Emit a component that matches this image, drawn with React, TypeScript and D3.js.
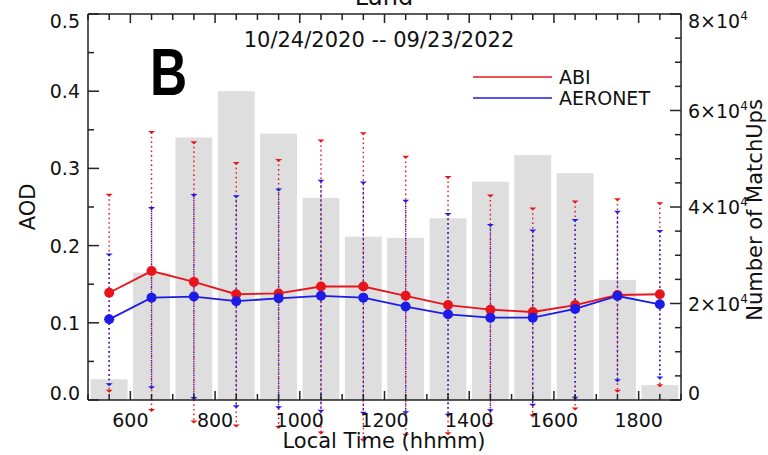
import React from "react";
import * as d3 from "d3";

const hours = [550, 650, 750, 850, 950, 1050, 1150, 1250, 1350, 1450, 1550, 1650, 1750, 1850];
const matchups = [4300, 26400, 54400, 64000, 55200, 41900, 33850, 33600, 37650, 45250, 50750, 47000, 24900, 3100];
const abiMean = [0.139, 0.167, 0.153, 0.137, 0.138, 0.147, 0.147, 0.135, 0.123, 0.117, 0.114, 0.123, 0.136, 0.137];
const abiStd = [0.127, 0.18, 0.181, 0.17, 0.173, 0.189, 0.1985, 0.18, 0.166, 0.148, 0.134, 0.134, 0.124, 0.118];
const aeroMean = [0.1045, 0.1326, 0.134, 0.128, 0.1317, 0.135, 0.1326, 0.121, 0.111, 0.1067, 0.1067, 0.118, 0.1347, 0.124];
const aeroStd = [0.084, 0.116, 0.1315, 0.136, 0.141, 0.149, 0.149, 0.137, 0.13, 0.12, 0.113, 0.115, 0.109, 0.095];
const xTickLabels = [600, 800, 1000, 1200, 1400, 1600, 1800];
const yTickLabels = [0, 0.1, 0.2, 0.3, 0.4, 0.5];
const rightTickLabels = [0, 20000, 40000, 60000, 80000];

const RED = "#e8141c";
const BLUE = "#1c1ce6";
const FONT = "'DejaVu Sans', sans-serif";

export default function App() {
  const L = 88, R = 681, T = 14, B = 400;
  const x = d3.scaleLinear().domain([500, 1900]).range([L, R]);
  const y = d3.scaleLinear().domain([0, 0.5]).range([B, T]);
  const yc = d3.scaleLinear().domain([0, 80000]).range([B, T]);
  const line = d3.line<number>().x((_, i) => x(hours[i])).y((d) => y(d));
  const bw = x(587) - x(500);

  const xMinor = d3.range(500, 1901, 50);
  const yMinor = d3.range(0, 0.5001, 0.05);
  const rMinor = d3.range(0, 80001, 5000);

  const errBars = (mean: number[], std: number[], color: string, key: string) =>
    hours.map((h, i) => {
      const cx = x(h);
      const y1 = y(mean[i] + std[i]);
      const y2 = y(mean[i] - std[i]);
      return (
        <g key={key + i}>
          <line x1={cx} x2={cx} y1={y1} y2={y2} stroke={color} strokeWidth={1.4} strokeDasharray="1.6,3" />
          <path d={`M${cx - 3.5},${y1 - 1} L${cx + 3.5},${y1 - 1} L${cx},${y1 + 2} Z`} fill={color} />
          <path d={`M${cx - 3.5},${y2 - 1} L${cx + 3.5},${y2 - 1} L${cx},${y2 + 2} Z`} fill={color} />
        </g>
      );
    });

  return (
    <svg width={768} height={455} style={{ position: "absolute", left: 0, top: 0, background: "#fff" }} fontFamily={FONT}>
      <rect x={0} y={0} width={768} height={455} fill="#fff" />
      {/* bars */}
      {hours.map((h, i) => (
        <rect key={"b" + i} x={x(h) - bw / 2} y={yc(matchups[i])} width={bw} height={B - yc(matchups[i])} fill="#dedede" />
      ))}
      {/* error bars */}
      {errBars(abiMean, abiStd, RED, "r")}
      {errBars(aeroMean, aeroStd, BLUE, "bl")}
      {/* lines */}
      <path d={line(abiMean) || ""} fill="none" stroke={RED} strokeWidth={1.8} />
      <path d={line(aeroMean) || ""} fill="none" stroke={BLUE} strokeWidth={1.8} />
      {abiMean.map((v, i) => (
        <circle key={"rc" + i} cx={x(hours[i])} cy={y(v)} r={5} fill={RED} />
      ))}
      {aeroMean.map((v, i) => (
        <circle key={"bc" + i} cx={x(hours[i])} cy={y(v)} r={5} fill={BLUE} />
      ))}
      {/* axes frame */}
      <g stroke="#222" strokeWidth={1.5} fill="none">
        <line x1={L} x2={R} y1={B} y2={B} />
        <line x1={L} x2={R} y1={T} y2={T} />
        <line x1={L} x2={L} y1={T} y2={B} />
        <line x1={R} x2={R} y1={T} y2={B} />
        {xMinor.map((v) => {
          const len = v % 200 === 0 ? 9 : 6;
          return (
            <g key={"xt" + v}>
              <line x1={x(v)} x2={x(v)} y1={B} y2={B - len} />
              <line x1={x(v)} x2={x(v)} y1={T} y2={T + len} />
            </g>
          );
        })}
        {yMinor.map((v, i) => {
          const len = i % 2 === 0 ? 11 : 6;
          return <line key={"yt" + i} x1={L} x2={L + len} y1={y(v)} y2={y(v)} />;
        })}
        {rMinor.map((v) => {
          const len = v % 20000 === 0 ? 11 : 6;
          return <line key={"rt" + v} x1={R} x2={R - len} y1={yc(v)} y2={yc(v)} />;
        })}
      </g>
      {/* tick labels */}
      <g fontSize={19} fill="#111">
        {xTickLabels.map((v) => (
          <text key={"xl" + v} x={x(v)} y={427} textAnchor="middle">{v}</text>
        ))}
        {yTickLabels.map((v, i) => {
          let yy = y(v) + 7;
          if (i === 0) yy -= 7;
          if (i === yTickLabels.length - 1) yy += 7;
          return (
            <text key={"yl" + i} x={80} y={yy} textAnchor="end">{v.toFixed(1)}</text>
          );
        })}
        {rightTickLabels.map((v, i) => {
          let yy = yc(v) + 7;
          if (i === 0) yy -= 7;
          if (i === rightTickLabels.length - 1) yy += 7;
          if (v === 0) return <text key={"rl" + i} x={688} y={yy}>0</text>;
          return (
            <text key={"rl" + i} x={688} y={yy}>
              {v / 10000}×10<tspan fontSize={12} dy={-8}>4</tspan>
            </text>
          );
        })}
      </g>
      {/* axis titles */}
      <text x={384} y={448} textAnchor="middle" fontSize={21} fill="#111">Local Time (hhmm)</text>
      <text transform="translate(35,207) rotate(-90)" textAnchor="middle" fontSize={21} fill="#111">AOD</text>
      <text transform="translate(762,210) rotate(-90)" textAnchor="middle" fontSize={21} fill="#111">Number of MatchUps</text>
      <text x={384} y={5} textAnchor="middle" fontSize={24} fill="#111">Land</text>
      <text x={379} y={47} textAnchor="middle" fontSize={21} fill="#111">10/24/2020 -- 09/23/2022</text>
      {/* B label */}
      <text transform="translate(150,95) scale(0.78,1)" fontSize={66} fontWeight={900} fontFamily="'Liberation Sans', sans-serif" fill="#000">B</text>
      {/* legend */}
      <line x1={473} x2={552} y1={77} y2={77} stroke={RED} strokeWidth={1.6} />
      <line x1={473} x2={552} y1={98} y2={98} stroke={BLUE} strokeWidth={1.6} />
      <text x={559} y={84} fontSize={19} fill="#111">ABI</text>
      <text x={559} y={105} fontSize={19} fill="#111">AERONET</text>
    </svg>
  );
}
